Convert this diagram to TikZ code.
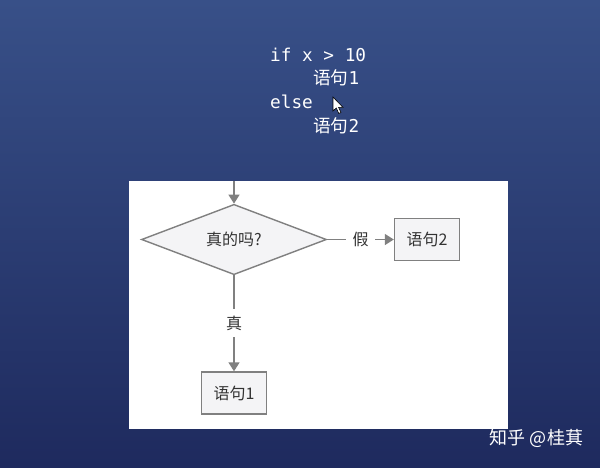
\documentclass[tikz,border=0pt]{standalone}
\usepackage{fontspec}
\setmonofont{DejaVu Sans Mono}
\newfontfamily\cjk{Noto Sans CJK SC}
\usepackage{xcolor}
\usepackage{tikz}
\usetikzlibrary{arrows.meta,positioning,shapes.geometric}
\definecolor{bgtop}{RGB}{56,80,136}
\definecolor{bgbot}{RGB}{30,42,94}
\definecolor{flowline}{RGB}{128,128,128}
\definecolor{flowfill}{RGB}{244,244,246}
\tikzset{
  codeline/.style={anchor=base west,text=white,inner sep=0pt,
    font=\ttfamily\fontsize{17.7}{20}\selectfont},
  stmtbox/.style={draw=flowline,fill=flowfill,line width=1.4pt,
    minimum width=65pt,minimum height=42pt,inner sep=0pt,text=black!80,
    font=\cjk\fontsize{16}{18}\selectfont},
  testbox/.style={diamond,draw=flowline,fill=flowfill,line width=1.4pt,
    minimum width=185pt,minimum height=67pt,inner sep=0pt,text=black!80,
    font=\cjk\fontsize{16}{18}\selectfont},
  flow/.style={draw=flowline,line width=1.4pt,-{Triangle[width=11pt,length=9pt]}},
  tag/.style={fill=white,inner sep=6.5pt,text=black!80,
    font=\cjk\fontsize{16}{18}\selectfont}
}
\begin{document}
\begin{tikzpicture}[x=1pt,y=-1pt]
\useasboundingbox (0,0) rectangle (600,467);
\shade[top color=bgtop,bottom color=bgbot] (0,0) rectangle (600,467);
% code on the slide
\node[codeline] (ifline) at (270,61) {if x > 10};
\node[codeline] (stmtA) at (313,84) {{\cjk 语句}1};
\node[codeline] (elseline) at (270,108) {else};
\node[codeline] (stmtB) at (313,132) {{\cjk 语句}2};
% mouse pointer
\draw[fill=white,line width=0.6pt] (333,97) -- (333,111) -- (336.3,108) -- (338.8,113.5)
  -- (341,112.5) -- (338.6,107.4) -- (343,107.4) -- cycle;
% flow chart
\fill[white] (129,181) rectangle (508,429);
\coordinate (entry) at (234,181);
\node[testbox] (cond) at (234,239.5) {真的吗?};
\node[stmtbox] (else2) at (427,239.5) {语句2};
\node[stmtbox] (then1) at (234,393) {语句1};
\draw[flow] (entry) -- (cond.north);
\draw[flow] (cond.east) -- node[tag]{假} (else2.west);
\draw[flow] (cond.south) -- node[tag]{真} (then1.north);
% watermark
\node[text=white,inner sep=0pt,font=\cjk\fontsize{18}{20}\selectfont] (mark) at (536.5,438.5) {知乎 @桂萁};
\end{tikzpicture}
\end{document}
